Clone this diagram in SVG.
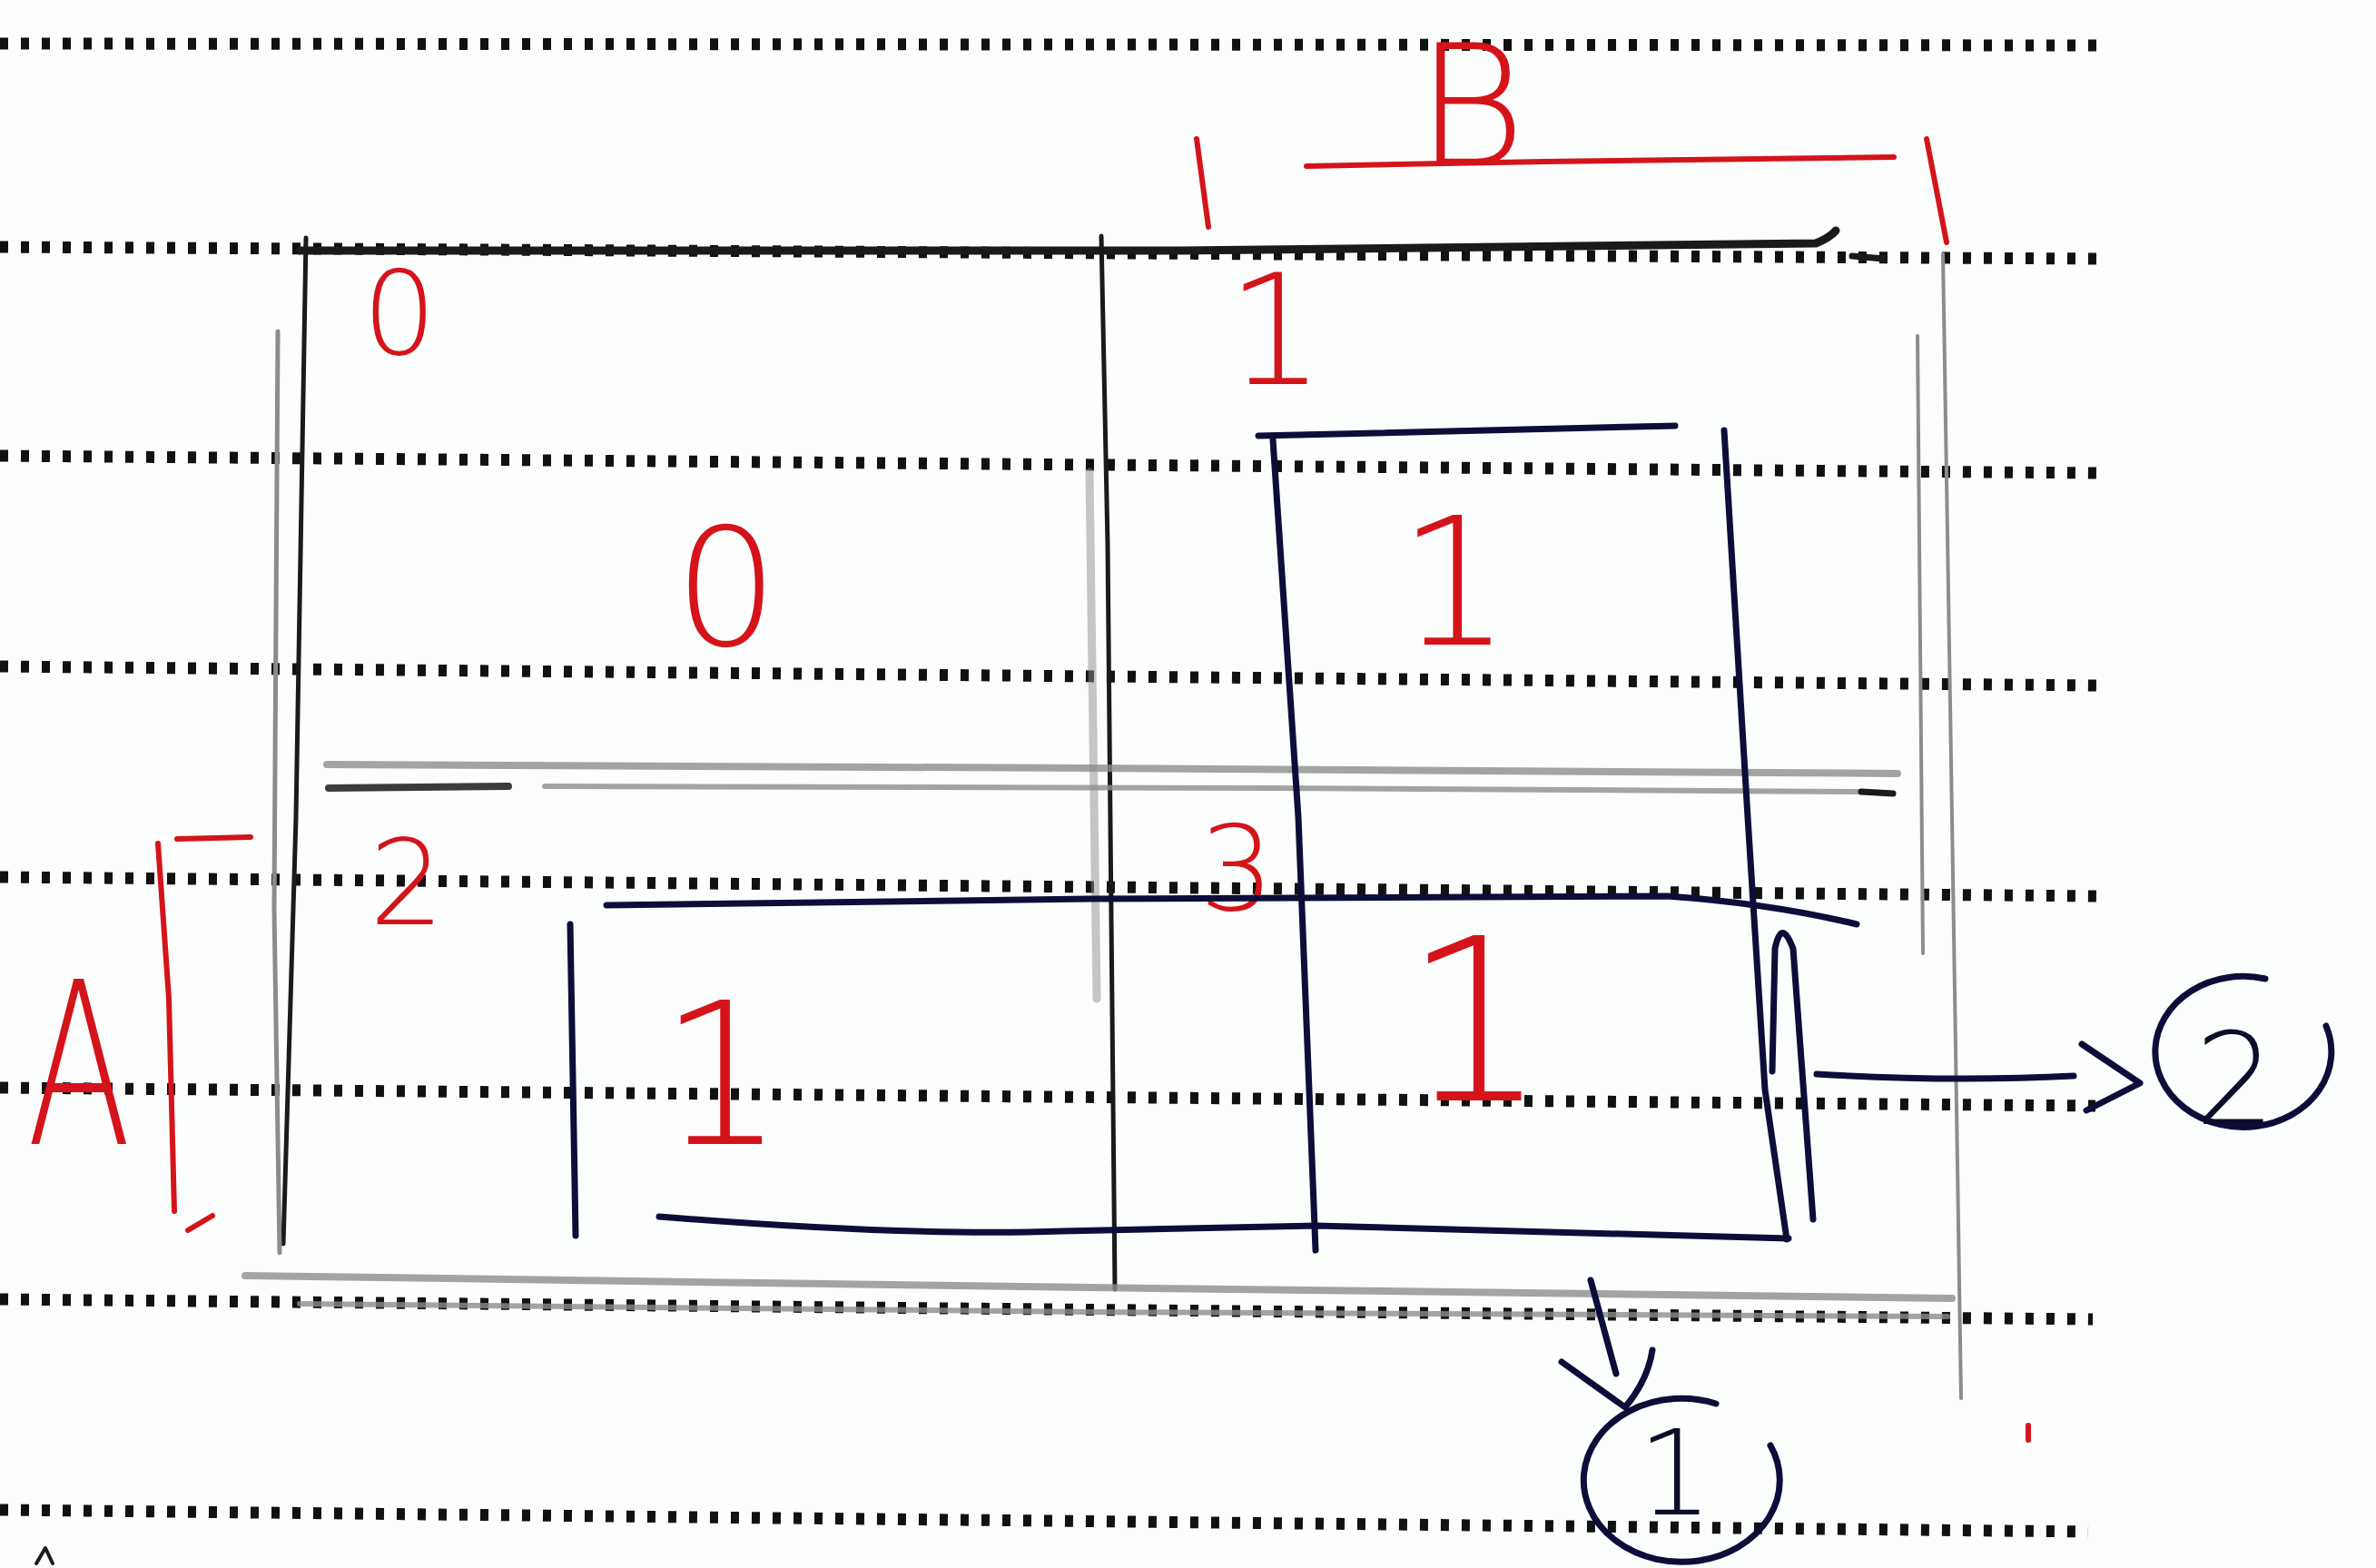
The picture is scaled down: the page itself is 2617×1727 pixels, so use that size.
<svg xmlns="http://www.w3.org/2000/svg" width="2617" height="1727" viewBox="0 0 2617 1727">
<style>
.dots{stroke:#111;stroke-width:13;stroke-dasharray:9 14;fill:none}
.pen{stroke:#1a1a1a;fill:none;stroke-linecap:round;stroke-linejoin:round}
.pencil{stroke:#8c8c8c;fill:none;stroke-linecap:round;stroke-linejoin:round}
.ink{stroke:#0d0d3a;fill:none;stroke-width:7;stroke-linecap:round;stroke-linejoin:round}
.red{stroke:#d4141a;fill:none;stroke-width:6;stroke-linecap:round;stroke-linejoin:round}
.rt{fill:#d4141a;font-family:"DejaVu Sans","Liberation Sans",sans-serif;font-weight:200;text-anchor:middle}
.kt{fill:#0d0d2a;font-family:"DejaVu Sans","Liberation Sans",sans-serif;font-weight:200;text-anchor:middle}
</style>
<rect x="0" y="0" width="2617" height="1727" fill="#fcfefe"/>

<g id="paper-lines">
<line class="dots" x1="0" y1="48" x2="2312" y2="50"/>
<line class="dots" x1="0" y1="272" x2="2312" y2="285"/>
<line class="dots" x1="0" y1="502" x2="2312" y2="521"/>
<line class="dots" x1="0" y1="734" x2="2312" y2="755"/>
<line class="dots" x1="0" y1="966" x2="2312" y2="987"/>
<line class="dots" x1="0" y1="1198" x2="2308" y2="1218"/>
<line class="dots" x1="0" y1="1431" x2="2305" y2="1453"/>
<line class="dots" x1="0" y1="1663" x2="2300" y2="1687"/>
</g>

<g id="kmap-grid">
<path class="pen" stroke-width="5" d="M337,262 L326,900 L312,1370"/>
<path class="pencil" stroke="#555" stroke-width="5" d="M306,365 L302,1000 L308,1380"/>
<path class="pen" stroke="#333" stroke-width="5" d="M1213,260 L1220,600 L1228,1420"/>
<path class="pencil" stroke-width="9" opacity="0.5" d="M1200,520 L1208,1100"/>
<path class="pencil" stroke="#666" stroke-width="4" d="M2140,280 L2150,900 L2160,1540"/>
<path class="pencil" stroke-width="4" d="M2112,370 L2118,1050"/>
<path class="pen" stroke-width="9" d="M330,276 L1300,276 L2000,268 Q2015,262 2022,254"/>
<path class="pen" stroke-width="7" d="M2040,282 L2075,285"/>
<path class="pencil" stroke="#aaa" stroke-width="8" opacity="0.8" d="M360,842 L1200,846 L2090,852"/>
<path class="pen" stroke-width="8" opacity="0.85" d="M362,868 L560,866"/>
<path class="pencil" stroke-width="6" opacity="0.8" d="M600,866 L1400,868 L2050,872"/>
<path class="pen" stroke-width="7" d="M2050,872 L2085,874"/>
<path class="pencil" stroke="#aaa" stroke-width="8" opacity="0.8" d="M270,1405 L1200,1418 L2150,1430"/>
<path class="pencil" stroke="#444" stroke-width="6" opacity="0.8" d="M330,1436 L1200,1445 L2145,1450"/>
</g>

<g id="var-B">
<text class="rt" x="1620" y="182" font-size="185" font-family="Liberation Sans">B</text>
<path class="red" stroke-width="5" d="M1439,183 L1700,178 L2086,173"/>
<path class="red" d="M1318,153 L1331,250"/>
<path class="red" d="M2122,153 L2144,267"/>
</g>

<g id="var-A">
<text class="rt" x="87" y="1260" font-size="250" font-family="Liberation Sans" textLength="115" lengthAdjust="spacingAndGlyphs">A</text>
<path class="red" stroke-width="7" d="M174,929 L186,1100 L192,1334"/>
<path class="red" stroke-width="4" d="M195,924 L276,922"/>
<path class="red" stroke-width="7" d="M207,1355 L234,1339"/>
</g>

<g id="cell-0">
<text class="rt" x="440" y="390" font-size="128">0</text>
<text class="rt" x="800" y="710" font-size="180">0</text>
</g>
<g id="cell-1">
<text class="rt" x="1405" y="423" font-size="170">1</text>
<text class="rt" x="1602" y="710" font-size="196">1</text>
</g>
<g id="cell-2">
<text class="rt" x="448" y="1018" font-size="130">2</text>
<text class="rt" x="795" y="1260" font-size="218">1</text>
</g>
<g id="cell-3">
<text class="rt" x="1362" y="1002" font-size="130">3</text>
<text class="rt" x="1625" y="1212" font-size="250">1</text>
</g>

<g id="group-vertical">
<path class="ink" d="M1386,480 L1845,469"/>
<path class="ink" d="M1402,484 L1430,900 L1449,1377"/>
<path class="ink" stroke="#141470" d="M1899,474 L1925,900 L1944,1200 L1968,1365"/>
</g>
<g id="group-horizontal">
<path class="ink" d="M668,997 L1200,990 L1836,987 Q1950,995 2045,1018"/>
<path class="ink" d="M628,1018 L634,1361"/>
<path class="ink" d="M1952,1180 L1955,1045 Q1962,1010 1975,1045 L1997,1343"/>
<path class="ink" stroke-width="11" d="M726,1340 Q1000,1362 1170,1356 L1450,1350 L1970,1364"/>
</g>

<g id="connectors">
<path class="ink" stroke-width="5" d="M2001,1183 Q2150,1192 2284,1185"/>
<path class="ink" stroke-width="7" d="M2293,1150 L2357,1193 L2298,1223"/>
<path class="ink" stroke-width="5" d="M1752,1410 L1780,1513"/>
<path class="ink" stroke-width="7" d="M1720,1500 L1790,1550 Q1815,1520 1820,1487"/>
</g>

<g id="result-2">
<path class="ink" stroke-width="6" d="M2495,1078 A97,83 0 1 0 2562,1130"/>
<text class="kt" x="2462" y="1238" font-size="140">2</text>
</g>
<g id="result-1">
<path class="ink" stroke-width="6" d="M1890,1546 A108,90 0 1 0 1950,1592"/>
<text class="kt" x="1845" y="1668" font-size="130" fill="#141470">1</text>
</g>

<g id="marks">
<path class="pen" stroke-width="4" d="M40,1722 L50,1705 L58,1722"/>
<path class="red" stroke-width="5" d="M2234,1570 L2234,1586"/>
</g>
</svg>
